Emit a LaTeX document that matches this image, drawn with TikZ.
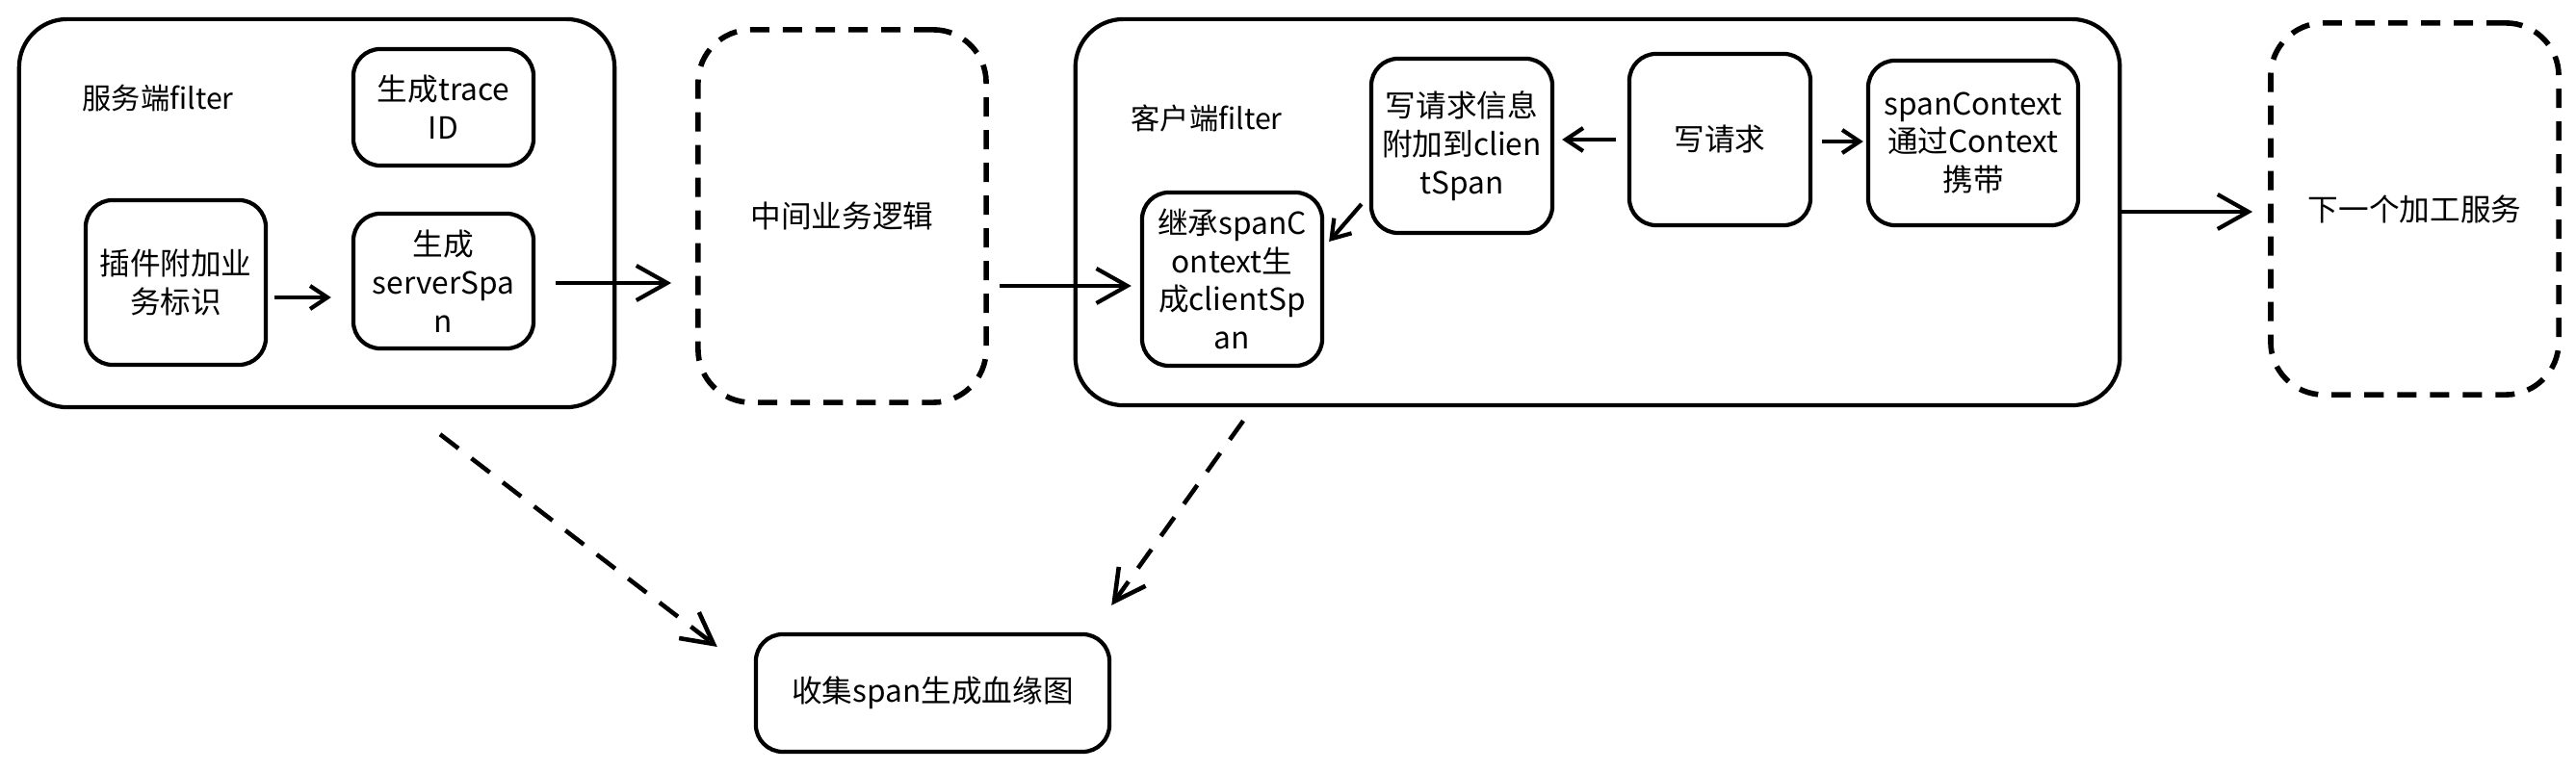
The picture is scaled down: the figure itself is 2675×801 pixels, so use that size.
\documentclass[tikz,border=0pt]{standalone}
\usepackage{fontspec}
\setmainfont{Noto Sans CJK SC}
\usetikzlibrary{arrows.meta}
\begin{document}
\begin{tikzpicture}[x=0.01cm,y=-0.01cm,
  outer/.style={draw, line width=1.2pt, rounded corners=0.5cm, inner sep=0pt},
  inner/.style={draw, line width=1.2pt, rounded corners=0.28cm, align=center, inner sep=0pt,
    font=\fontsize{9pt}{11.3pt}\selectfont},
  dbox/.style={draw, line width=1.6pt, dash pattern=on 0.2cm off 0.14cm, rounded corners=0.55cm,
    align=center, inner sep=0pt, font=\fontsize{9pt}{11pt}\selectfont},
  lbl/.style={anchor=west, inner sep=0pt, font=\fontsize{8.6pt}{10pt}\selectfont},
  arr/.style={line width=1.2pt, -{Straight Barb[length=0.32cm,width=0.36cm,line width=1.2pt]}},
  arrs/.style={line width=1.2pt, -{Straight Barb[length=0.18cm,width=0.24cm,line width=1.2pt]}},
  darr/.style={line width=1.3pt, dash pattern=on 0.24cm off 0.17cm,
    -{Straight Barb[length=0.32cm,width=0.34cm,line width=1.3pt]}}
]
\useasboundingbox (0,0) rectangle (2675,801);

% server filter
\node[outer, minimum width=6.18cm, minimum height=4.03cm] (A) at (329,221.5) {};
\node[lbl] (Alab) at (85,102) {服务端filter};
\node[inner, minimum width=1.87cm, minimum height=1.21cm] (tid) at (460.5,111.5) {生成trace\\ID};
\node[inner, minimum width=1.87cm, minimum height=1.71cm] (cj) at (182.5,293.5) {插件附加业\\务标识};
\node[inner, minimum width=1.87cm, minimum height=1.40cm] (ss) at (460.5,292) {生成\\serverSpa\\n};

% middle
\node[dbox, minimum width=2.99cm, minimum height=3.87cm] (mid) at (874.5,224.5) {中间业务逻辑};

% client filter
\node[outer, minimum width=10.84cm, minimum height=4.01cm] (B) at (1659,220.5) {};
\node[lbl] (Blab) at (1174,123) {客户端filter};
\node[inner, minimum width=1.87cm, minimum height=1.80cm] (jc) at (1279.5,290) {继承spanC\\ontext生\\成clientSp\\an};
\node[inner, minimum width=1.88cm, minimum height=1.81cm] (xqx) at (1518,151.5) {写请求信息\\附加到clien\\tSpan};
\node[inner, minimum width=1.88cm, minimum height=1.78cm] (xq) at (1786,145) {写请求};
\node[inner, minimum width=2.18cm, minimum height=1.71cm] (sc) at (2049,148.5) {spanContext\\通过Context\\携带};

% next service
\node[dbox, minimum width=2.99cm, minimum height=3.86cm] (nx) at (2507.5,217) {下一个加工服务};

% collect
\node[inner, minimum width=3.67cm, minimum height=1.22cm] (col) at (968.5,720) {收集span生成血缘图};

% arrows
\draw[arrs] ([shift={(7,15.5)}]cj.east) -- ([shift={(-21,17)}]ss.west);
\draw[arr] ([shift={(21,2)}]ss.east) -- ([shift={(-25,69.5)}]mid.west);
\draw[arr] ([shift={(11,72.5)}]mid.east) -- ([shift={(-9,7)}]jc.west);
\draw[arrs] ([shift={(-12,0)}]xq.west) -- ([shift={(8,-6.5)}]xqx.east);
\draw[arrs] ([shift={(10,2)}]xq.east) -- ([shift={(-3,-1.5)}]sc.west);
\draw[arrs] ([shift={(-8,60.5)}]xqx.west) -- ([shift={(5,-39)}]jc.east);
\draw[arr] ([shift={(0,-0.5)}]B.east) -- ([shift={(-16,3)}]nx.west);
\draw[darr] ([shift={(128,26)}]A.south) -- ([shift={(-38,-48)}]col.west);
\draw[darr] ([shift={(-368,14)}]B.south) -- ([shift={(0,-28)}]col.north east);
\end{tikzpicture}
\end{document}
